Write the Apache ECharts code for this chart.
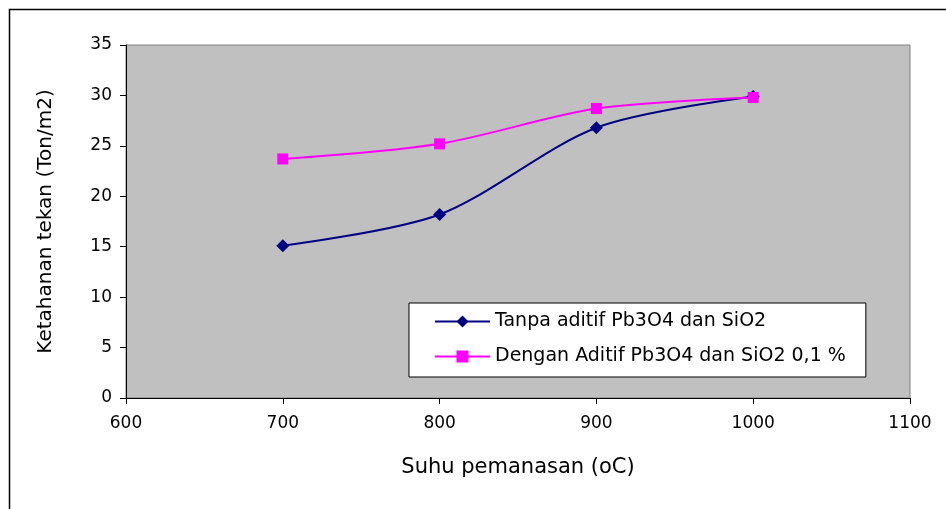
<!DOCTYPE html>
<html><head><meta charset="utf-8">
<script src="https://cdn.jsdelivr.net/npm/echarts@6/dist/echarts.min.js"></script>
<style>html,body{margin:0;padding:0;background:#fff}#c{width:946px;height:509px}</style>
</head><body><div id="c"></div>
<script>
const temps = [700, 800, 900, 1000];
const tanpa = [15.1, 18.2, 26.8, 29.9];
const dengan = [23.7, 25.2, 28.7, 29.8];
const seriesNames = ['Tanpa aditif Pb3O4 dan SiO2', 'Dengan Aditif Pb3O4 dan SiO2 0,1 %'];
const xTitle = 'Suhu pemanasan (oC)';
const yTitle = 'Ketahanan tekan (Ton/m2)';

const chart = echarts.init(document.getElementById('c'), null, {renderer: 'canvas'});
const font = 'DejaVu Sans, sans-serif';
chart.setOption({
  animation: false,
  backgroundColor: '#fff',
  graphic: [{type: 'rect', left: 7, top: 7, shape: {width: 950, height: 520}, style: {fill: 'none', stroke: '#000', lineWidth: 1.5}, z: -1}],
  grid: {left: 126, top: 45, right: 36, bottom: 111, show: true, backgroundColor: '#C0C0C0', borderColor: '#808080', borderWidth: 1},
  xAxis: {
    type: 'value', min: 600, max: 1100, interval: 100,
    name: xTitle, nameLocation: 'middle', nameGap: 59,
    nameTextStyle: {fontFamily: font, fontSize: 21, color: '#000'},
    axisLine: {onZero: false, lineStyle: {color: '#000'}},
    axisTick: {show: true, length: 6, lineStyle: {color: '#000'}},
    axisLabel: {fontFamily: font, fontSize: 17, color: '#000', margin: 17, formatter: v => String(v)},
    splitLine: {show: false}
  },
  yAxis: {
    type: 'value', min: 0, max: 35, interval: 5,
    name: yTitle, nameLocation: 'middle', nameGap: 70, nameRotate: 90,
    nameTextStyle: {fontFamily: font, fontSize: 20, color: '#000'},
    axisLine: {show: true, lineStyle: {color: '#000'}},
    axisTick: {show: true, length: 6, lineStyle: {color: '#000'}},
    axisLabel: {fontFamily: font, fontSize: 17, color: '#000', margin: 14, formatter: v => String(v)},
    splitLine: {show: false}
  },
  legend: {
    orient: 'vertical', left: 409, top: 303,
    backgroundColor: '#fff', borderColor: '#000', borderWidth: 1,
    padding: [9, 20, 11, 25], itemGap: 16, itemWidth: 55, itemHeight: 15,
    textStyle: {fontFamily: font, fontSize: 19, color: '#000'},
    data: seriesNames
  },
  series: [
    {name: seriesNames[0], type: 'line', smooth: 0.3, data: temps.map((t, i) => [t, tanpa[i]]),
     symbol: 'diamond', symbolSize: 13, color: '#000080', lineStyle: {width: 2, color: '#000080'}, itemStyle: {color: '#000080'}},
    {name: seriesNames[1], type: 'line', smooth: 0.3, data: temps.map((t, i) => [t, dengan[i]]),
     symbol: 'rect', symbolSize: 11, color: '#FF00FF', lineStyle: {width: 2, color: '#FF00FF'}, itemStyle: {color: '#FF00FF'}}
  ]
});
</script></body></html>
